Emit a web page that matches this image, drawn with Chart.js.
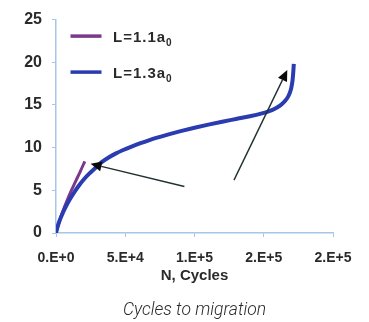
<!DOCTYPE html>
<html><head><meta charset="utf-8">
<script src="https://cdn.jsdelivr.net/npm/chart.js@4"></script>
<style>html,body{margin:0;padding:0;background:#fff}#wrap{width:369px;height:322px}</style>
</head><body><div id="wrap"><canvas id="c" width="369" height="322"></canvas></div>
<script>
// ---- data ----
const seriesNames = ['L=1.1a', 'L=1.3a'];
const seriesSubs = ['0', '0'];
const cyclesShort = [0, 2500, 6000, 10000, 14000, 17500, 20800];
const depthShort  = [0, 1.4, 3.0, 4.6, 6.0, 7.2, 8.4];
const cyclesLong = [0, 1000, 2500, 4500, 7000, 10000, 13500, 17000, 20500, 24000, 28000, 33000, 38000, 43000, 48500, 55000, 61000, 67000, 73000, 80000, 90000, 100000, 110000, 120000, 130000, 140000, 148000, 153000, 158000, 162000, 165000, 167500, 169000, 170000, 170800, 171300, 171700];
const depthLong  = [0, 0.65, 1.4, 2.2, 3.05, 3.95, 4.85, 5.65, 6.35, 6.95, 7.55, 8.3, 8.85, 9.3, 9.72, 10.15, 10.52, 10.86, 11.17, 11.5, 11.93, 12.33, 12.7, 13.04, 13.36, 13.68, 13.98, 14.22, 14.55, 14.95, 15.4, 15.95, 16.5, 17.1, 17.9, 18.8, 19.8];
const xTickValues = [0, 50000, 100000, 150000, 200000];
const xTickLabels = ['0.E+0', '5.E+4', '1.E+5', '2.E+5', '2.E+5'];
const yTickLabels = ['0', '5', '10', '15', '20', '25'];
const arrowTails = [[92700, 5.45], [128500, 6.2]];
const arrowHeads = [[25000, 8.1], [167000, 19.1]];
const xAxisTitle = 'N, Cycles';
const caption = 'Cycles to migration';

const colors = ['#7a3a8c', '#2a3cb0'];
const axisColor = '#a6c6e6';
const textColor = '#2a2a2a';

const toPts = (xs, ys) => xs.map((x, i) => ({x: x, y: ys[i]}));

const legendPlugin = {
  id: 'subLegend',
  afterDraw(chart) {
    const {ctx, chartArea} = chart;
    ctx.save();
    const rows = [chartArea.top + 16.5, chartArea.top + 52.5];
    seriesNames.forEach((name, i) => {
      const y = rows[i];
      ctx.strokeStyle = colors[i];
      ctx.lineWidth = 3.5;
      ctx.beginPath();
      ctx.moveTo(chartArea.left + 14.5, y);
      ctx.lineTo(chartArea.left + 45.5, y);
      ctx.stroke();
      ctx.fillStyle = textColor;
      ctx.textBaseline = 'middle';
      ctx.textAlign = 'left';
      ctx.font = 'bold 15px "Liberation Sans", Arial, sans-serif';
      ctx.letterSpacing = '1px';
      const tx = chartArea.left + 57;
      ctx.fillText(name, tx, y + 1.5);
      const w = ctx.measureText(name).width;
      ctx.font = 'bold 10px "Liberation Sans", Arial, sans-serif';
      ctx.letterSpacing = '0px';
      ctx.fillText(seriesSubs[i], tx + w, y + 7);
    });
    ctx.restore();
  }
};

const arrowPlugin = {
  id: 'arrows',
  afterDatasetsDraw(chart) {
    const {ctx, scales: {x, y}} = chart;
    ctx.save();
    ctx.strokeStyle = '#1f3030';
    ctx.fillStyle = '#0a0a0a';
    ctx.lineWidth = 1.4;
    arrowTails.forEach((t, i) => {
      const h = arrowHeads[i];
      const x0 = x.getPixelForValue(t[0]), y0 = y.getPixelForValue(t[1]);
      const x1 = x.getPixelForValue(h[0]), y1 = y.getPixelForValue(h[1]);
      const ang = Math.atan2(y1 - y0, x1 - x0);
      const L = 11, W = 5;
      const bx = x1 - L * Math.cos(ang), by = y1 - L * Math.sin(ang);
      ctx.beginPath();
      ctx.moveTo(x0, y0);
      ctx.lineTo(bx, by);
      ctx.stroke();
      ctx.beginPath();
      ctx.moveTo(x1, y1);
      ctx.lineTo(bx + W * Math.sin(ang), by - W * Math.cos(ang));
      ctx.lineTo(bx - W * Math.sin(ang), by + W * Math.cos(ang));
      ctx.closePath();
      ctx.fill();
    });
    ctx.restore();
  }
};

new Chart(document.getElementById('c'), {
  type: 'line',
  data: {
    datasets: [
      {label: seriesNames[0] + seriesSubs[0], data: toPts(cyclesShort, depthShort), borderColor: colors[0], borderWidth: 3, pointRadius: 0, cubicInterpolationMode: 'monotone', order: 1, fill: false},
      {label: seriesNames[1] + seriesSubs[1], data: toPts(cyclesLong, depthLong), borderColor: colors[1], borderWidth: 4, pointRadius: 0, cubicInterpolationMode: 'monotone', order: 0, fill: false}
    ]
  },
  options: {
    responsive: false,
    animation: false,
    devicePixelRatio: 1,
    layout: {padding: {left: 6, right: 36, top: 17, bottom: 0}},
    plugins: {
      legend: {display: false},
      tooltip: {enabled: false},
      title: {
        display: true, position: 'bottom', fullSize: false, text: caption, color: '#2a2a2a',
        font: {family: 'Roboto, "Liberation Sans", sans-serif', size: 17.5, style: 'italic', weight: '300'},
        padding: {top: 7, bottom: 1}
      }
    },
    scales: {
      x: {
        type: 'linear', min: 0, max: 200000,
        afterBuildTicks(s) { s.ticks = xTickValues.map(v => ({value: v})); },
        afterFit(s) { s.height = 60; },
        grid: {drawOnChartArea: false, drawTicks: true, tickLength: 4, color: axisColor},
        border: {color: axisColor, width: 1.5},
        ticks: {
          autoSkip: false, maxRotation: 0, padding: 13, color: textColor,
          font: {family: '"Liberation Sans", Arial, sans-serif', size: 14, weight: 'bold'},
          callback: (v, i) => xTickLabels[i]
        },
        title: {display: true, text: xAxisTitle, color: textColor,
          font: {family: '"Liberation Sans", Arial, sans-serif', size: 15, weight: 'bold'},
          padding: {top: 0, bottom: 8}}
      },
      y: {
        min: 0, max: 25,
        afterBuildTicks(s) { s.ticks = yTickLabels.map(v => ({value: Number(v)})); },
        afterFit(s) { s.width = 50; },
        grid: {drawOnChartArea: false, drawTicks: true, tickLength: 4, color: axisColor},
        border: {color: axisColor, width: 1.5},
        ticks: {
          padding: 10, color: textColor,
          font: {family: '"Liberation Sans", Arial, sans-serif', size: 16, weight: 'bold'},
          callback: (v, i) => yTickLabels[i]
        }
      }
    }
  },
  plugins: [arrowPlugin, legendPlugin]
});
</script>
</body></html>
